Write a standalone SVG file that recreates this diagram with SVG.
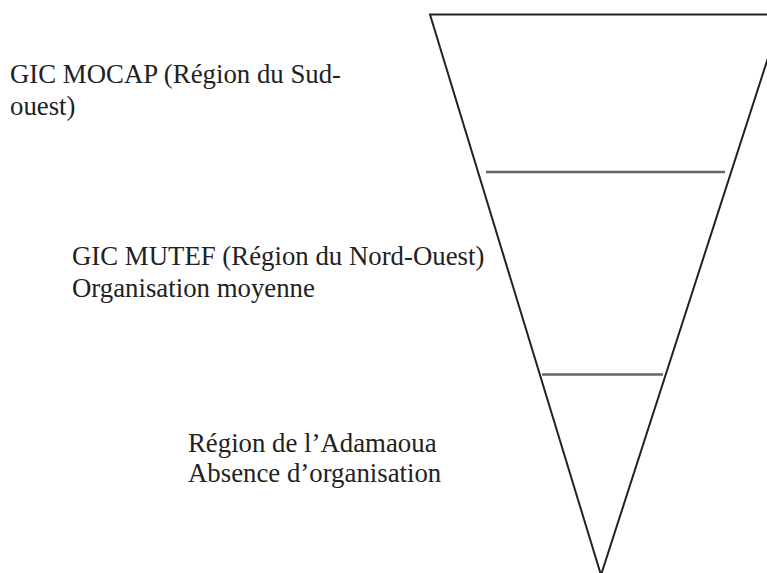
<svg xmlns="http://www.w3.org/2000/svg" width="767" height="573" viewBox="0 0 767 573">
<style>
text{font-family:"Liberation Serif","Times New Roman",serif;font-size:26.8px;fill:#222}
.edge{stroke:#222;stroke-width:2;fill:none}
.band{stroke:#666;stroke-width:2.5;fill:none}
</style>
<rect width="767" height="573" fill="#fff"/>
<g id="connectors">
<polyline class="edge" points="782,14.5 430,14.5 601,575 782,14.5"/>
<line class="band" x1="486" y1="172" x2="725" y2="172"/>
<line class="band" x1="542" y1="374.5" x2="663" y2="374.5"/>
</g>
<g id="level1">
<text x="10" y="83">GIC MOCAP (Région du Sud-</text>
<text x="10" y="115">ouest)</text>
</g>
<g id="level2">
<text x="72" y="265">GIC MUTEF (Région du Nord-Ouest)</text>
<text x="72" y="297">Organisation moyenne</text>
</g>
<g id="level3">
<text x="188" y="452">Région de l’Adamaoua</text>
<text x="188" y="482">Absence d’organisation</text>
</g>
</svg>
